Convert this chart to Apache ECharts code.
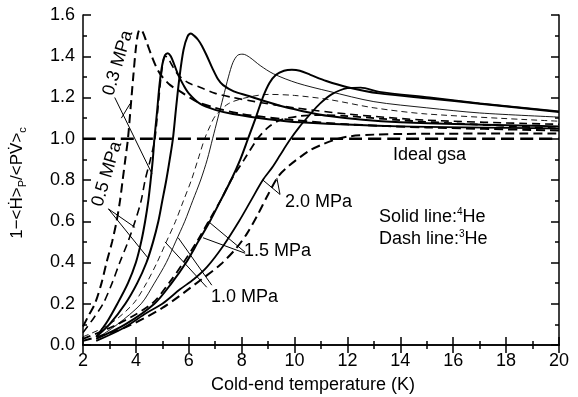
<!DOCTYPE html>
<html>
<head>
<meta charset="utf-8">
<script src="https://cdn.jsdelivr.net/npm/echarts@6/dist/echarts.min.js"></script>
<style>
  html, body { margin: 0; padding: 0; background: #fff; }
  #chart { width: 578px; height: 397px; }
</style>
</head>
<body>
<div id="chart"></div>
<script>
// axis ranges [min, max, interval]
var xTicks = [2, 20, 2];
var yTicks = [0, 1.6, 0.2];

// 3He (dashed) curves, [T, value]
var he3_03 = [[2,0.09],[2.2,0.14],[2.45,0.2],[2.7,0.3],[2.89,0.4],[3.1,0.5],[3.27,0.6],[3.4,0.7],[3.5,0.8],[3.6,0.9],[3.7,1.0],[3.8,1.15],[3.9,1.3],[4.0,1.44],[4.08,1.51],[4.15,1.53],[4.25,1.52],[4.4,1.47],[4.6,1.4],[4.8,1.34],[5.0,1.3],[5.3,1.26],[5.67,1.23],[6.3,1.18],[7,1.15],[8,1.12],[10,1.09],[12,1.07],[15,1.055],[20,1.04]];
var he3_05 = [[2,0.06],[2.4,0.13],[2.76,0.2],[3.1,0.3],[3.39,0.4],[3.7,0.5],[3.97,0.6],[4.2,0.7],[4.35,0.8],[4.55,0.9],[4.72,1.0],[4.85,1.17],[4.97,1.32],[5.1,1.4],[5.2,1.395],[5.35,1.36],[5.6,1.31],[6,1.27],[6.42,1.25],[7,1.22],[7.67,1.2],[8.5,1.18],[10,1.15],[12,1.12],[15,1.09],[20,1.07]];
var he3_10 = [[2,0.04],[3,0.1],[3.9,0.2],[4.4,0.3],[4.8,0.4],[5.15,0.5],[5.5,0.6],[5.8,0.7],[6.1,0.8],[6.35,0.9],[6.6,1.0],[6.8,1.06],[7.0,1.11],[7.5,1.17],[8.2,1.2],[9,1.215],[10,1.21],[11.3,1.19],[13,1.15],[15,1.12],[20,1.085]];
var he3_15 = [[2,0.03],[3.3,0.1],[4.6,0.2],[5.25,0.3],[5.8,0.4],[6.3,0.5],[6.75,0.6],[7.2,0.7],[7.6,0.8],[8.1,0.9],[8.6,1.0],[9.0,1.055],[9.45,1.09],[10.2,1.11],[11,1.115],[12,1.11],[14,1.09],[16,1.075],[20,1.05]];
var he3_20 = [[2,0.02],[3.5,0.08],[5,0.18],[6.5,0.32],[7.2,0.39],[7.8,0.47],[8.2,0.54],[8.6,0.63],[9.0,0.73],[9.4,0.82],[9.8,0.87],[10.2,0.91],[10.6,0.945],[11.1,0.975],[11.6,0.998],[12.1,1.012],[13,1.02],[14,1.023],[17,1.025],[20,1.025]];

// 4He (solid) curves
var he4_03 = [[2.5,0.04],[2.9,0.11],[3.3,0.2],[3.7,0.3],[4.0,0.4],[4.2,0.5],[4.35,0.6],[4.47,0.7],[4.56,0.8],[4.64,0.9],[4.7,1.0],[4.8,1.13],[4.9,1.27],[5.0,1.36],[5.1,1.405],[5.21,1.415],[5.32,1.4],[5.45,1.36],[5.6,1.31],[5.8,1.26],[6.0,1.22],[6.42,1.17],[7,1.14],[7.67,1.12],[9,1.095],[10.2,1.08],[14,1.06],[20,1.05]];
var he4_05 = [[2.5,0.04],[3.0,0.1],[3.6,0.2],[4.05,0.3],[4.4,0.4],[4.65,0.5],[4.85,0.6],[5.0,0.7],[5.15,0.8],[5.28,0.9],[5.4,1.0],[5.52,1.15],[5.65,1.3],[5.8,1.43],[5.95,1.495],[6.08,1.51],[6.2,1.5],[6.35,1.48],[6.5,1.45],[6.69,1.4],[6.9,1.34],[7.1,1.29],[7.3,1.26],[7.7,1.23],[8.2,1.21],[9.45,1.16],[11.3,1.11],[14,1.08],[20,1.06]];
var he4_10 = [[2.5,0.03],[3.3,0.1],[4.2,0.2],[4.7,0.3],[5.15,0.4],[5.5,0.5],[5.85,0.6],[6.15,0.7],[6.45,0.8],[6.7,0.9],[6.9,1.0],[7.1,1.1],[7.3,1.2],[7.5,1.3],[7.67,1.37],[7.85,1.405],[8.05,1.41],[8.3,1.395],[8.7,1.355],[9.2,1.315],[10.1,1.27],[11.3,1.23],[13,1.18],[15,1.15],[17,1.125],[20,1.105]];
var he4_15 = [[2.5,0.03],[3.6,0.1],[4.7,0.2],[5.35,0.3],[5.9,0.4],[6.35,0.5],[6.8,0.6],[7.2,0.7],[7.6,0.8],[7.95,0.9],[8.24,1.0],[8.5,1.09],[8.8,1.2],[9.05,1.27],[9.3,1.31],[9.6,1.33],[9.9,1.335],[10.2,1.33],[10.6,1.31],[11.2,1.28],[12,1.25],[13.2,1.22],[15.1,1.195],[17,1.17],[20,1.13]];
var he4_20 = [[2.5,0.02],[3.5,0.08],[4.4,0.155],[5.0,0.2],[5.67,0.27],[6.2,0.32],[6.7,0.38],[7.3,0.48],[7.9,0.6],[8.35,0.7],[8.8,0.8],[9.15,0.86],[9.45,0.92],[9.8,0.99],[10.2,1.06],[10.6,1.12],[10.96,1.17],[11.4,1.215],[12,1.245],[12.5,1.248],[13.2,1.227],[15.1,1.2],[17,1.172],[20,1.133]];

var ideal = [[2,1.0],[20,1.0]];

// pointer lines from the pressure labels, [x1,y1,x2,y2]
var pointers = [
  [3.2,1.2,4.61,0.83], [3.45,1.1,3.78,1.17],
  [2.96,0.66,3.97,0.57], [2.96,0.66,4.47,0.42],
  [6.87,0.29,5.6,0.52], [6.68,0.28,5.1,0.5],
  [8.13,0.45,6.73,0.6], [8.13,0.445,6.54,0.52],
  [9.45,0.73,8.8,0.8], [9.45,0.73,9.33,0.81]
];

var chart = echarts.init(document.getElementById('chart'));

function curve(data, width, dash) {
  return {
    type: 'line',
    data: data,
    showSymbol: false,
    smooth: 0.3,
    silent: true,
    lineStyle: { color: '#000', width: width, type: dash || 'solid' }
  };
}

var series = [
  curve(ideal, 2.5, [13, 6]),
  curve(he3_03, 2, [9, 5]),
  curve(he3_05, 1.6, [8, 5]),
  curve(he3_10, 0.9, [6, 4]),
  curve(he3_15, 1.8, [8, 5]),
  curve(he3_20, 2, [9, 5]),
  curve(he4_03, 2),
  curve(he4_05, 2),
  curve(he4_10, 0.9),
  curve(he4_15, 2),
  curve(he4_20, 1.8)
];
pointers.forEach(function (p) {
  series.push({
    type: 'line',
    data: [[p[0], p[1]], [p[2], p[3]]],
    showSymbol: false,
    silent: true,
    lineStyle: { color: '#000', width: 1 }
  });
});

var font = 'Liberation Sans, Arial, sans-serif';
var axisCommon = {
  axisLine: { show: true, lineStyle: { color: '#000', width: 1.5 } },
  axisTick: { show: true, inside: true, length: 8, lineStyle: { color: '#000', width: 1.5 } },
  minorTick: { show: true, splitNumber: 2, length: 4, lineStyle: { color: '#000', width: 1.5 } },
  splitLine: { show: false }
};

chart.setOption({
  animation: false,
  backgroundColor: '#fff',
  grid: { left: 83, right: 19, top: 15, bottom: 52 },
  xAxis: [
    Object.assign({
      type: 'value', min: xTicks[0], max: xTicks[1], interval: xTicks[2],
      axisLabel: { color: '#000', fontSize: 18, fontFamily: font, margin: 7 }
    }, axisCommon),
    Object.assign({
      type: 'value', position: 'top', min: xTicks[0], max: xTicks[1], interval: xTicks[2],
      axisLabel: { show: false }
    }, axisCommon)
  ],
  yAxis: [
    Object.assign({
      type: 'value', min: yTicks[0], max: yTicks[1], interval: yTicks[2],
      axisLabel: { color: '#000', fontSize: 18, fontFamily: font, margin: 8,
        formatter: function (v) { return v.toFixed(1); } }
    }, axisCommon),
    Object.assign({
      type: 'value', position: 'right', min: yTicks[0], max: yTicks[1], interval: yTicks[2],
      axisLabel: { show: false }
    }, axisCommon)
  ],
  series: series,
  graphic: [
    { type: 'text', x: 17, y: 183, rotation: Math.PI / 2,
      style: { text: '1\u2212<\u1E22>{s|P}/<PV\u0307>{s|c}', font: '17px ' + font, fill: '#000',
        align: 'center', verticalAlign: 'middle',
        rich: { s: { fontSize: 11, fontFamily: font, verticalAlign: 'bottom', lineHeight: 22 } } } },
    { type: 'text', x: 313, y: 385,
      style: { text: 'Cold-end temperature (K)', font: '18px ' + font, fill: '#000', align: 'center', verticalAlign: 'middle' } },
    { type: 'text', x: 118, y: 63, rotation: 73 * Math.PI / 180,
      style: { text: '0.3 MPa', font: '18px ' + font, fill: '#000', align: 'center', verticalAlign: 'middle' } },
    { type: 'text', x: 107, y: 174, rotation: 73 * Math.PI / 180,
      style: { text: '0.5 MPa', font: '18px ' + font, fill: '#000', align: 'center', verticalAlign: 'middle' } },
    { type: 'text', x: 211, y: 297,
      style: { text: '1.0 MPa', font: '18px ' + font, fill: '#000', align: 'left', verticalAlign: 'middle' } },
    { type: 'text', x: 244, y: 251,
      style: { text: '1.5 MPa', font: '18px ' + font, fill: '#000', align: 'left', verticalAlign: 'middle' } },
    { type: 'text', x: 285, y: 202,
      style: { text: '2.0 MPa', font: '18px ' + font, fill: '#000', align: 'left', verticalAlign: 'middle' } },
    { type: 'text', x: 393, y: 155,
      style: { text: 'Ideal gsa', font: '18px ' + font, fill: '#000', align: 'left', verticalAlign: 'middle' } },
    { type: 'text', x: 379, y: 217,
      style: { text: 'Solid line:{u|4}He', font: '18px ' + font, fill: '#000', align: 'left', verticalAlign: 'middle',
        rich: { u: { fontSize: 10, fontFamily: font, verticalAlign: 'top', lineHeight: 20 } } } },
    { type: 'text', x: 379, y: 239,
      style: { text: 'Dash line:{u|3}He', font: '18px ' + font, fill: '#000', align: 'left', verticalAlign: 'middle',
        rich: { u: { fontSize: 10, fontFamily: font, verticalAlign: 'top', lineHeight: 20 } } } }
  ]
});
</script>
</body>
</html>
